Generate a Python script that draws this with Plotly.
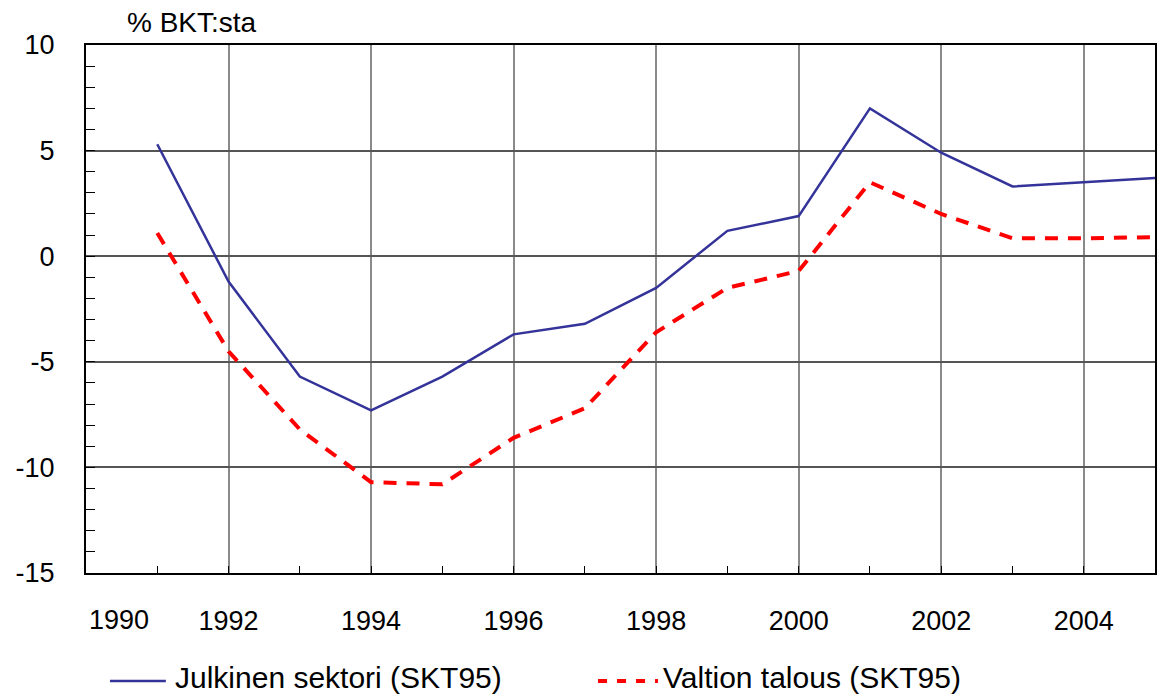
import plotly.graph_objects as go

years = list(range(1991, 2006))
julkinen = [5.3, -1.2, -5.7, -7.3, -5.7, -3.7, -3.2, -1.5, 1.2, 1.9, 7.0, 4.9, 3.3, 3.5, 3.7]
valtion = [1.1, -4.5, -8.2, -10.7, -10.8, -8.6, -7.2, -3.6, -1.5, -0.7, 3.5, 2.0, 0.85, 0.85, 0.9]
x_tick_years = [1992, 1994, 1996, 1998, 2000, 2002, 2004]
y_ticks = [-15, -10, -5, 0, 5, 10]
y_tick_text = ["-15", "-10", "-5", "0", "5", "10"]
series_names = ["Julkinen sektori (SKT95)", "Valtion talous (SKT95)"]

FONT = "Liberation Sans, Arial, sans-serif"
W, H = 1161, 699
ML, MR, MT, MB = 86, 4, 45, 126
PW = W - ML - MR
PH = H - MT - MB

NAVY = "#333399"
RED = "#ff0000"
RED_DASH = "13px,10px"


def px_x(px):
    return (px - ML) / PW


def px_y(py):
    return (MT + PH - py) / PH


fig = go.Figure()
fig.add_trace(go.Scatter(
    x=years, y=julkinen, mode="lines", name=series_names[0],
    line=dict(color=NAVY, width=2.5), showlegend=False,
))
fig.add_trace(go.Scatter(
    x=years, y=valtion, mode="lines", name=series_names[1],
    line=dict(color=RED, width=4, dash=RED_DASH), showlegend=False,
))

# Key below the plot: line samples plus labels
legend_y = px_y(681)
shapes = [
    dict(type="line", xref="paper", yref="paper", x0=px_x(110), x1=px_x(166),
         y0=legend_y, y1=legend_y, line=dict(color=NAVY, width=2.5)),
    dict(type="line", xref="paper", yref="paper", x0=px_x(599), x1=px_x(659),
         y0=legend_y, y1=legend_y, line=dict(color=RED, width=4, dash="9px,10px")),
]
annotations = [
    dict(text=series_names[0], xref="paper", yref="paper", x=px_x(173), y=px_y(678),
         xanchor="left", yanchor="middle", showarrow=False, font=dict(size=30, family=FONT)),
    dict(text=series_names[1], xref="paper", yref="paper", x=px_x(662), y=px_y(678),
         xanchor="left", yanchor="middle", showarrow=False, font=dict(size=30, family=FONT)),
    dict(text="% BKT:sta", xref="paper", yref="paper", x=px_x(192), y=px_y(22),
         xanchor="center", yanchor="middle", showarrow=False, font=dict(size=28, family=FONT)),
    dict(text="1990", xref="x", yref="paper", x=1990.46, y=px_y(620),
         xanchor="center", yanchor="middle", showarrow=False, font=dict(size=27, family=FONT)),
]

fig.update_layout(
    width=W, height=H,
    margin=dict(l=ML, r=MR, t=MT, b=MB),
    paper_bgcolor="white", plot_bgcolor="white",
    font=dict(family=FONT, size=27, color="black"),
    showlegend=False,
    xaxis=dict(
        range=[1990, 2005], tickvals=x_tick_years, ticktext=[str(v) for v in x_tick_years],
        showgrid=True, gridcolor="#8a8a8a", gridwidth=1.5,
        showline=True, linecolor="black", linewidth=2, mirror=True,
        ticks="inside", ticklen=7, tickcolor="black",
        minor=dict(dtick=1, tick0=1990, ticks="inside", ticklen=7, tickcolor="black", showgrid=False),
        ticklabelstandoff=23, zeroline=False,
    ),
    yaxis=dict(
        range=[-15, 10], tickvals=y_ticks, ticktext=y_tick_text,
        showgrid=True, gridcolor="#555555", gridwidth=1.5,
        showline=True, linecolor="black", linewidth=2, mirror=True,
        ticks="inside", ticklen=9, tickcolor="black",
        minor=dict(dtick=1, tick0=0, ticks="inside", ticklen=9, tickcolor="black", showgrid=False),
        ticklabelstandoff=24, zeroline=False,
    ),
    shapes=shapes,
    annotations=annotations,
)

fig.write_html("out.html")
